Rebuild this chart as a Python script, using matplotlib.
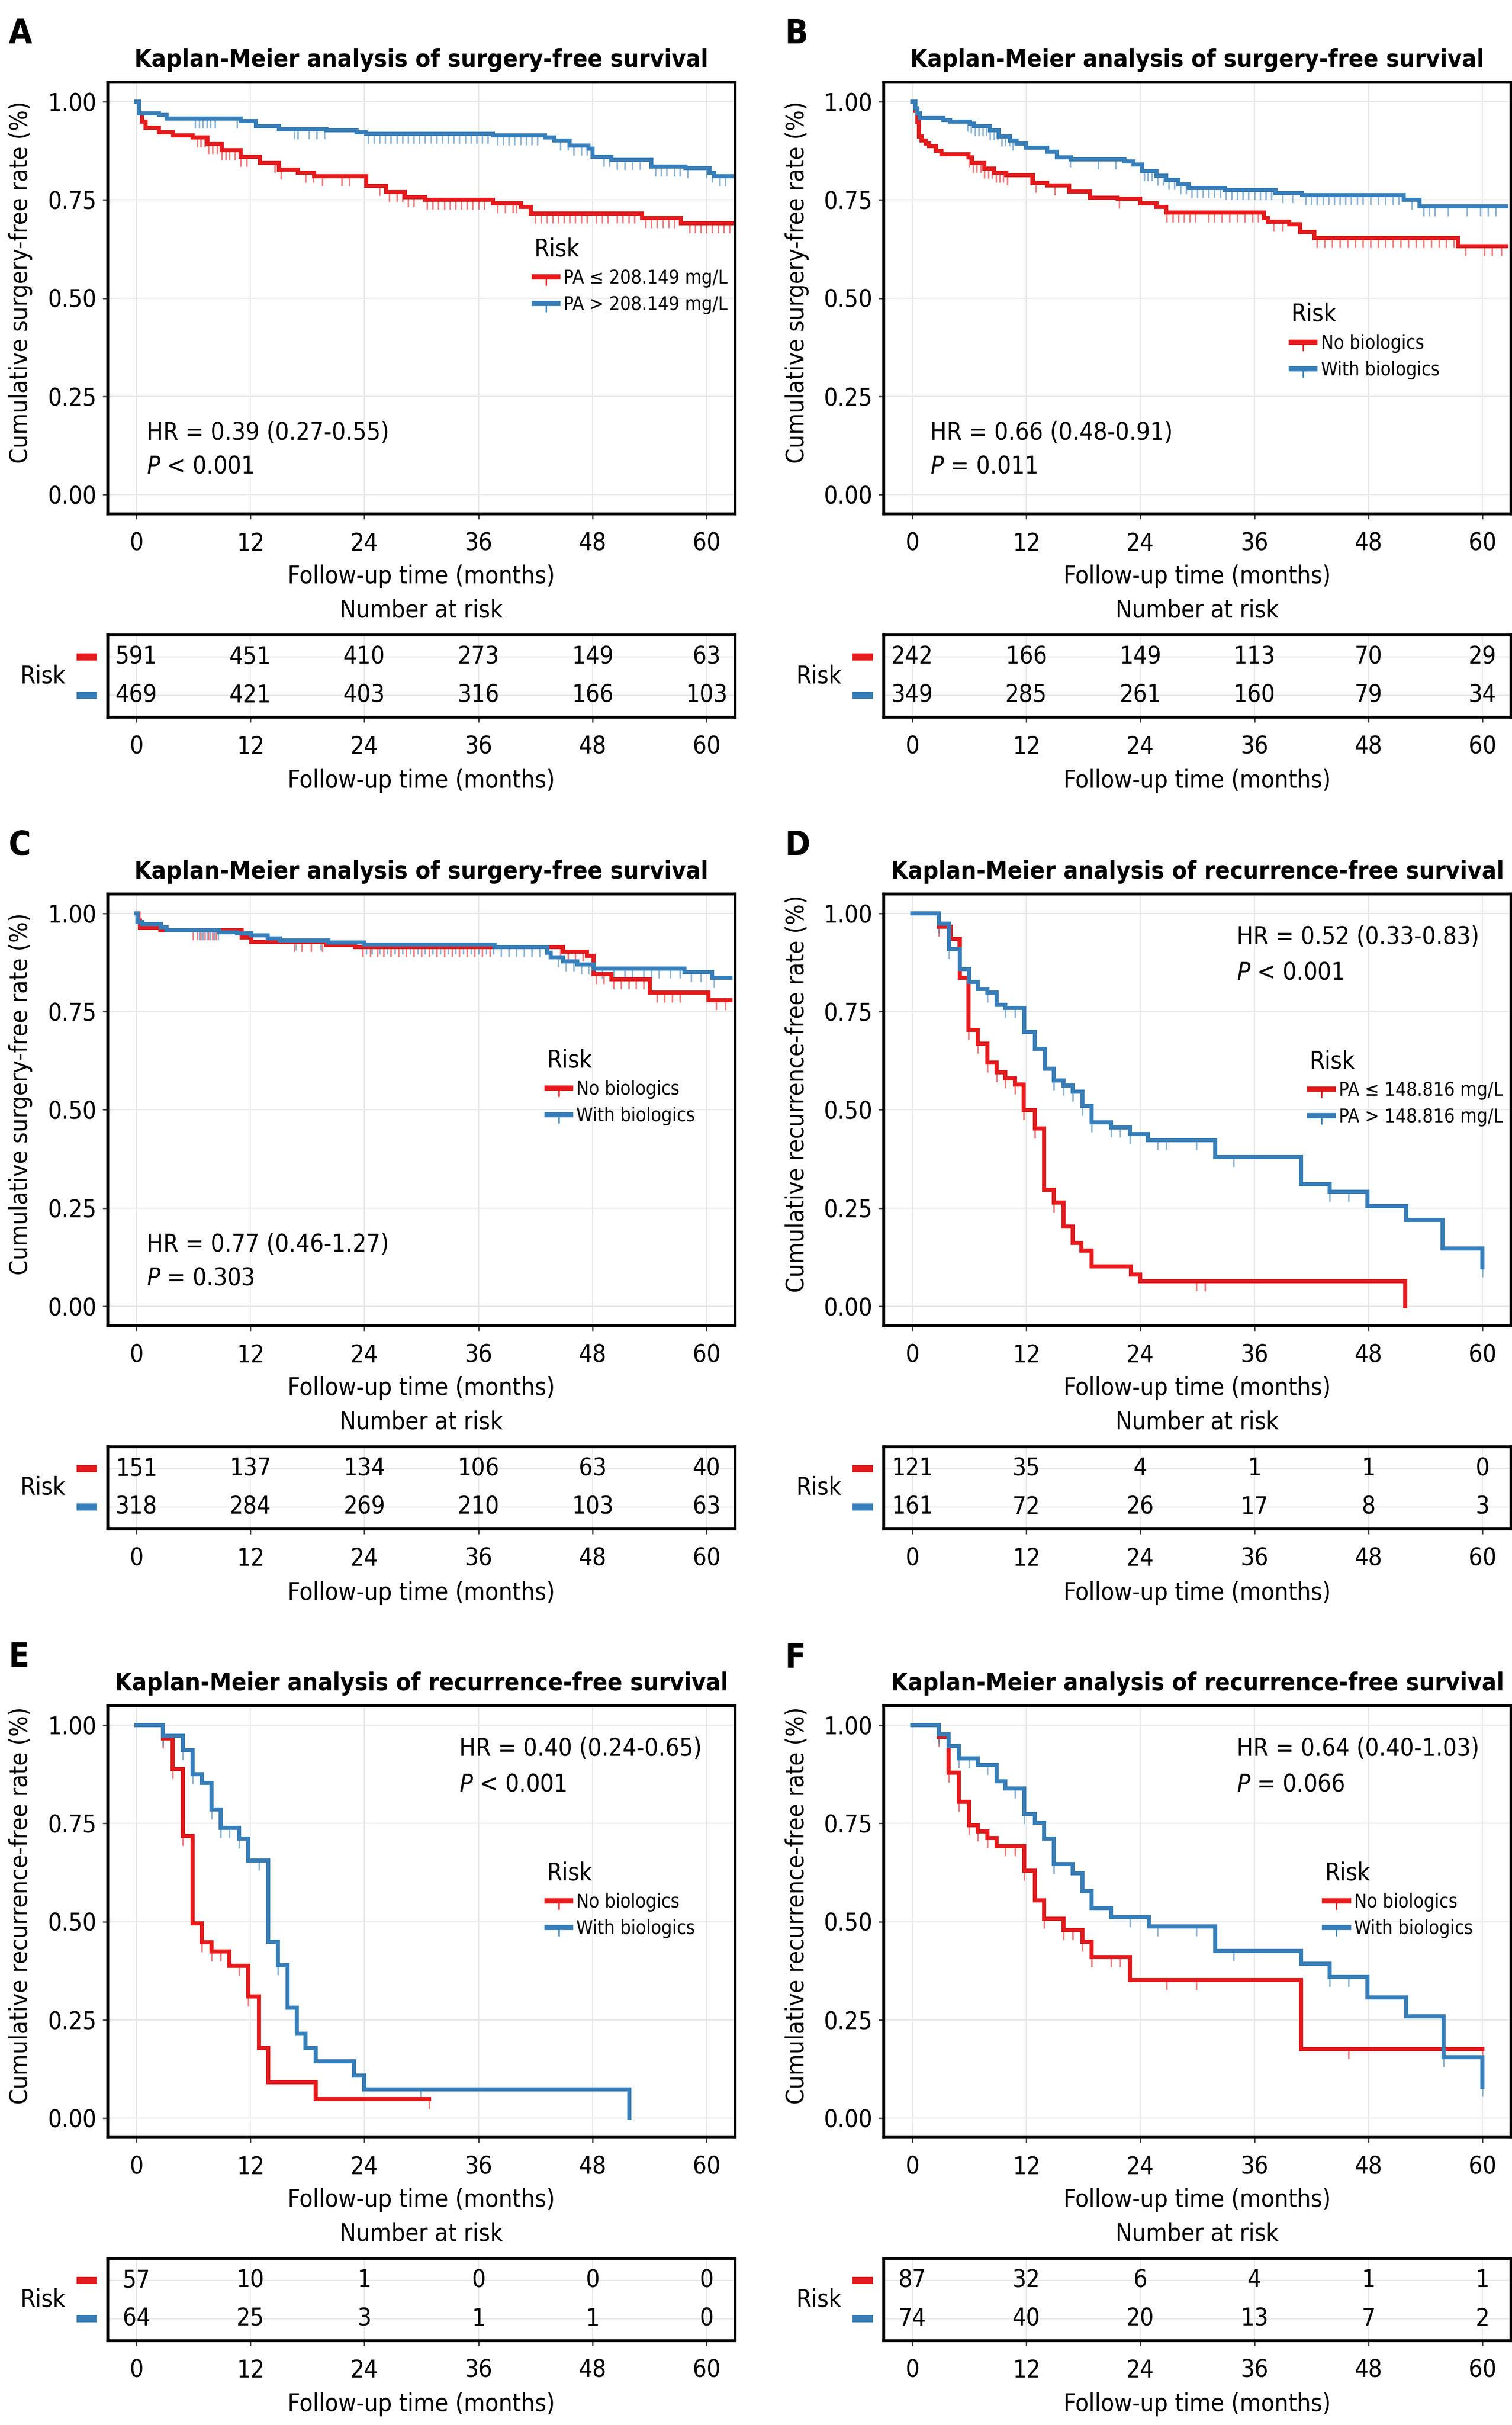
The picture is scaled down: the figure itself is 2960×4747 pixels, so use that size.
import numpy as np
import matplotlib
matplotlib.use('Agg')
import matplotlib.pyplot as plt
import matplotlib.font_manager as fm
from matplotlib.lines import Line2D
from matplotlib.patches import Rectangle
from matplotlib.path import Path
import matplotlib.transforms as mtransforms

_names = {f.name for f in fm.fontManager.ttflist}
_cond = [f for f in fm.fontManager.ttflist if f.name == 'DejaVu Sans' and str(f.stretch) in ('condensed', '400', 'semi-condensed')]
if 'DejaVu Sans Condensed' in _names:
    FAM = 'DejaVu Sans Condensed'
    SC = 1.11
    STRETCH = 'normal'
elif _cond:
    FAM = 'DejaVu Sans'
    SC = 1.11
    STRETCH = 'condensed'
else:
    FAM = 'DejaVu Sans'
    SC = 1.0
    STRETCH = 'normal'

plt.rcParams['font.family'] = [FAM, 'DejaVu Sans']
plt.rcParams['font.stretch'] = STRETCH
plt.rcParams['mathtext.fontset'] = 'custom'
plt.rcParams['mathtext.it'] = FAM + ':italic'
plt.rcParams['mathtext.rm'] = FAM

RED = '#E41A1C'
BLUE = '#377EB8'

time_ticks = [0, 12, 24, 36, 48, 60]
surv_ticks = [0.0, 0.25, 0.50, 0.75, 1.00]

title_sfs = "Kaplan-Meier analysis of surgery-free survival"
title_rfs = "Kaplan-Meier analysis of recurrence-free survival"
ylab_sfs = "Cumulative surgery-free rate (%)"
ylab_rfs = "Cumulative recurrence-free rate (%)"
xlab = "Follow-up time (months)"

# ---------------- Panel A ----------------
a_red_t = [0, 0.3, 0.6, 1.0, 2.4, 3.9, 5.9, 7.5, 9.0, 11.0, 13.0, 15.0, 17.0, 18.7, 24.2, 26.3, 28.3, 30.4, 37.5, 40.5, 41.5, 53.2, 57.3]
a_red_s = [1.0, 0.970, 0.950, 0.934, 0.922, 0.914, 0.909, 0.893, 0.877, 0.860, 0.844, 0.827, 0.819, 0.811, 0.786, 0.770, 0.757, 0.751, 0.741, 0.733, 0.716, 0.704, 0.691]
a_red_end = 62.6
a_red_cens = [6.4, 6.8, 7.2, 7.6, 8.0, 8.5, 9.0, 9.4, 9.8, 10.4, 11.0, 11.6, 14.6, 15.2, 17.8, 18.6, 19.6, 21.6, 22.4, 25.6, 26.6, 27.4, 28.0, 28.6, 29.2, 30.6, 31.2, 31.8, 32.4, 33.0, 33.6, 34.2, 34.8, 35.4, 36.0, 36.6, 38.0, 38.8, 39.6, 40.0, 42.0, 42.6, 43.2, 43.8, 44.4, 45.0, 45.6, 46.2, 46.8, 47.4, 48.4, 49.0, 49.6, 50.6, 51.2, 51.8, 52.4, 53.6, 54.2, 54.8, 55.4, 56.0, 56.6, 58.2, 58.8, 59.4, 60.0, 60.6, 61.2, 61.8, 62.4]
a_blue_t = [0, 0.3, 2.4, 3.2, 11.0, 12.6, 15.0, 20.0, 23.2, 24.2, 37.5, 43.0, 44.0, 45.6, 47.6, 48.0, 50.0, 54.2, 57.8, 60.3, 60.8]
a_blue_s = [1.0, 0.971, 0.967, 0.957, 0.951, 0.938, 0.930, 0.928, 0.922, 0.918, 0.914, 0.909, 0.901, 0.889, 0.881, 0.860, 0.852, 0.835, 0.831, 0.819, 0.811]
a_blue_end = 62.6
a_blue_cens = [6.2, 6.6, 7.0, 7.4, 7.8, 8.3, 10.6, 16.6, 17.0, 18.2, 19.0, 19.8, 24.4, 25.0, 25.6, 26.2, 26.8, 27.4, 28.0, 28.6, 29.2, 29.8, 30.4, 31.0, 31.6, 32.2, 32.8, 33.4, 34.0, 34.6, 35.2, 35.8, 36.4, 37.0, 38.0, 38.6, 39.2, 39.8, 40.4, 41.0, 41.6, 42.2, 44.6, 45.4, 46.0, 46.8, 47.4, 49.2, 49.8, 50.6, 51.4, 52.2, 53.0, 54.6, 55.2, 55.8, 56.6, 57.2, 58.0, 60.0, 60.6, 61.4, 62.0]
a_labels = ["PA \u2264 208.149 mg/L", "PA > 208.149 mg/L"]
a_risk_red = [591, 451, 410, 273, 149, 63]
a_risk_blue = [469, 421, 403, 316, 166, 103]
a_hr = "HR = 0.39 (0.27-0.55)"
a_p = ("<", "0.001")

# ---------------- Panel B ----------------
b_red_t = [0, 0.34, 0.55, 0.7, 1.0, 1.4, 1.8, 2.5, 3.1, 5.9, 6.3, 7.6, 8.6, 9.9, 12.7, 14.2, 16.5, 18.7, 21.6, 24.0, 25.7, 26.7, 37.0, 37.4, 39.7, 40.8, 42.3, 57.4]
b_red_s = [1.0, 0.977, 0.948, 0.912, 0.902, 0.894, 0.887, 0.875, 0.866, 0.859, 0.844, 0.830, 0.819, 0.813, 0.794, 0.787, 0.772, 0.756, 0.753, 0.742, 0.733, 0.718, 0.704, 0.695, 0.688, 0.668, 0.653, 0.632]
b_red_end = 62.5
b_red_cens = [6.0, 6.4, 6.8, 7.2, 7.6, 8.0, 8.4, 8.8, 9.2, 9.6, 10.0, 12.4, 13.0, 15.0, 21.8, 26.8, 27.4, 28.0, 28.6, 29.2, 29.8, 31.2, 31.8, 32.6, 33.4, 34.2, 35.0, 35.8, 36.4, 38.0, 39.0, 42.6, 43.4, 44.2, 45.0, 45.8, 46.6, 47.4, 48.2, 49.0, 49.8, 50.6, 51.4, 52.2, 53.0, 53.8, 54.6, 55.4, 56.2, 57.0, 58.2, 60.2, 61.0, 62.0]
b_blue_t = [0, 0.34, 0.55, 0.8, 3.3, 4.0, 6.1, 6.5, 8.2, 9.1, 10.3, 11.0, 12.0, 14.2, 15.2, 16.7, 22.3, 23.3, 24.2, 25.7, 26.7, 28.0, 29.1, 32.9, 38.2, 41.0, 51.7, 53.4]
b_blue_s = [1.0, 0.984, 0.970, 0.959, 0.954, 0.950, 0.945, 0.938, 0.927, 0.912, 0.902, 0.894, 0.884, 0.873, 0.859, 0.854, 0.848, 0.841, 0.823, 0.812, 0.802, 0.790, 0.780, 0.775, 0.767, 0.762, 0.751, 0.734]
b_blue_end = 62.5
b_blue_cens = [5.8, 6.2, 6.6, 7.0, 7.4, 7.8, 8.2, 8.6, 9.0, 9.4, 9.8, 10.2, 10.6, 16.6, 19.6, 21.4, 24.4, 24.8, 25.2, 25.8, 26.4, 27.0, 27.6, 28.2, 28.8, 29.4, 30.0, 30.6, 31.2, 31.8, 32.4, 33.0, 33.6, 34.2, 34.8, 35.4, 36.0, 36.6, 37.2, 37.8, 39.0, 40.0, 41.4, 42.0, 42.6, 43.2, 43.8, 44.4, 45.0, 45.6, 46.2, 46.8, 47.4, 48.2, 49.0, 49.8, 50.6, 51.2, 52.6, 53.8, 54.4, 55.0, 56.4, 58.4, 59.8, 60.6, 61.4]
b_labels = ["No biologics", "With biologics"]
b_risk_red = [242, 166, 149, 113, 70, 29]
b_risk_blue = [349, 285, 261, 160, 79, 34]
b_hr = "HR = 0.66 (0.48-0.91)"
b_p = ("=", "0.011")

# ---------------- Panel C ----------------
c_red_t = [0, 0.2, 0.4, 2.55, 11.1, 12.1, 20.0, 23.0, 44.9, 47.4, 48.1, 50.0, 54.0, 60.2]
c_red_s = [1.0, 0.982, 0.964, 0.957, 0.939, 0.927, 0.920, 0.914, 0.903, 0.892, 0.846, 0.832, 0.799, 0.779]
c_red_end = 62.5
c_red_cens = [6.0, 6.4, 6.8, 7.2, 7.6, 8.0, 8.4, 16.6, 17.4, 18.4, 19.6, 23.8, 24.6, 25.4, 26.0, 26.8, 27.6, 28.4, 29.2, 30.0, 30.8, 31.6, 32.4, 33.2, 34.0, 34.8, 35.6, 36.4, 37.2, 44.6, 45.4, 46.2, 47.0, 48.4, 49.2, 50.2, 51.0, 51.8, 52.6, 53.4, 54.8, 55.6, 56.4, 57.2, 61.0, 62.0]
c_blue_t = [0, 0.1, 0.6, 2.6, 3.2, 8.7, 10.6, 12.1, 13.8, 15.1, 20.2, 24.0, 37.7, 43.2, 43.6, 44.9, 46.4, 48.1, 57.7, 60.6]
c_blue_s = [1.0, 0.978, 0.973, 0.966, 0.958, 0.953, 0.950, 0.944, 0.937, 0.932, 0.926, 0.921, 0.914, 0.900, 0.889, 0.878, 0.871, 0.860, 0.851, 0.837]
c_blue_end = 62.5
c_blue_cens = [6.6, 7.0, 7.4, 7.8, 8.2, 8.6, 16.8, 19.4, 24.2, 24.8, 25.6, 26.4, 27.2, 28.0, 28.8, 29.6, 30.4, 31.2, 32.0, 32.8, 33.6, 34.4, 35.2, 36.0, 36.8, 37.6, 38.4, 39.2, 40.0, 40.8, 41.6, 42.4, 44.4, 45.2, 46.0, 46.8, 47.6, 49.0, 50.2, 51.4, 52.2, 53.4, 54.2, 55.0, 56.2, 57.2, 58.4, 59.4, 60.8]
c_labels = ["No biologics", "With biologics"]
c_risk_red = [151, 137, 134, 106, 63, 40]
c_risk_blue = [318, 284, 269, 210, 103, 63]
c_hr = "HR = 0.77 (0.46-1.27)"
c_p = ("=", "0.303")

# ---------------- Panel D ----------------
d_red_t = [0, 2.8, 4.05, 5.0, 5.9, 6.9, 7.9, 8.9, 9.8, 10.8, 11.75, 12.9, 13.9, 14.9, 15.9, 16.9, 17.8, 18.9, 23.0, 24.0, 51.9]
d_red_s = [1.0, 0.967, 0.935, 0.836, 0.704, 0.668, 0.620, 0.596, 0.580, 0.565, 0.499, 0.453, 0.296, 0.264, 0.203, 0.161, 0.141, 0.101, 0.080, 0.063, 0.0]
d_red_end = 51.9
d_red_cens = [2.8, 4.8, 5.9, 6.9, 7.9, 8.9, 9.8, 10.8, 11.75, 12.9, 14.9, 29.9, 30.8]
d_blue_t = [0, 2.8, 3.9, 5.0, 6.0, 6.9, 7.9, 8.9, 9.8, 11.8, 12.9, 14.0, 14.9, 15.9, 16.9, 17.9, 18.9, 20.9, 22.9, 24.8, 31.9, 40.9, 43.9, 47.9, 51.96, 55.8, 60.0]
d_blue_s = [1.0, 0.974, 0.910, 0.858, 0.826, 0.808, 0.799, 0.768, 0.760, 0.699, 0.655, 0.605, 0.575, 0.562, 0.546, 0.510, 0.468, 0.455, 0.438, 0.422, 0.379, 0.311, 0.291, 0.255, 0.220, 0.146, 0.099]
d_blue_end = 60.0
d_blue_cens = [2.8, 3.9, 6.0, 7.9, 9.8, 10.8, 14.9, 15.9, 16.9, 17.9, 18.9, 20.9, 21.9, 22.9, 25.8, 26.7, 29.9, 33.8, 43.9, 45.9, 60.0]
d_labels = ["PA \u2264 148.816 mg/L", "PA > 148.816 mg/L"]
d_risk_red = [121, 35, 4, 1, 1, 0]
d_risk_blue = [161, 72, 26, 17, 8, 3]
d_hr = "HR = 0.52 (0.33-0.83)"
d_p = ("<", "0.001")

# ---------------- Panel E ----------------
e_red_t = [0, 2.8, 3.8, 4.9, 5.9, 6.9, 7.9, 9.8, 11.8, 12.9, 13.9, 18.9]
e_red_s = [1.0, 0.967, 0.888, 0.718, 0.495, 0.447, 0.424, 0.388, 0.309, 0.178, 0.090, 0.047]
e_red_end = 30.8
e_red_cens = [2.8, 3.8, 4.9, 6.9, 7.9, 8.9, 10.8, 11.8, 30.8]
e_blue_t = [0, 2.8, 4.9, 5.9, 6.9, 7.9, 8.9, 10.8, 11.8, 13.9, 14.9, 15.9, 16.9, 17.8, 18.9, 22.9, 24.0, 51.9]
e_blue_s = [1.0, 0.973, 0.937, 0.876, 0.854, 0.786, 0.739, 0.712, 0.655, 0.449, 0.389, 0.281, 0.214, 0.178, 0.144, 0.108, 0.072, 0.0]
e_blue_end = 51.9
e_blue_cens = [2.8, 4.9, 5.9, 7.9, 8.9, 9.8, 10.8, 12.9, 14.9, 29.9]
e_labels = ["No biologics", "With biologics"]
e_risk_red = [57, 10, 1, 0, 0, 0]
e_risk_blue = [64, 25, 3, 1, 1, 0]
e_hr = "HR = 0.40 (0.24-0.65)"
e_p = ("<", "0.001")

# ---------------- Panel F ----------------
f_red_t = [0, 2.8, 3.8, 4.9, 6.0, 6.9, 7.9, 8.9, 11.8, 12.9, 13.9, 15.9, 17.9, 18.9, 22.9, 40.9]
f_red_s = [1.0, 0.970, 0.880, 0.805, 0.746, 0.730, 0.713, 0.692, 0.629, 0.554, 0.507, 0.478, 0.449, 0.410, 0.351, 0.175]
f_red_end = 60.0
f_red_cens = [2.8, 3.8, 4.9, 6.0, 6.9, 7.9, 9.8, 10.8, 11.8, 13.9, 15.9, 16.9, 17.9, 18.9, 20.9, 21.9, 26.8, 29.9, 45.9, 60.0]
f_blue_t = [0, 2.8, 3.8, 4.9, 6.9, 8.9, 9.8, 11.8, 12.9, 13.9, 14.9, 16.9, 17.9, 18.9, 20.9, 24.9, 31.9, 40.9, 43.9, 47.9, 52.0, 55.9, 60.0]
f_blue_s = [1.0, 0.977, 0.947, 0.916, 0.899, 0.857, 0.839, 0.774, 0.752, 0.712, 0.646, 0.623, 0.578, 0.534, 0.511, 0.487, 0.425, 0.392, 0.359, 0.307, 0.259, 0.154, 0.079]
f_blue_end = 60.0
f_blue_cens = [2.8, 4.9, 6.0, 7.9, 10.8, 11.8, 14.9, 22.9, 25.8, 29.9, 33.8, 43.9, 45.9, 55.9, 60.0]
f_labels = ["No biologics", "With biologics"]
f_risk_red = [87, 32, 6, 4, 1, 1]
f_risk_blue = [74, 40, 20, 13, 7, 2]
f_hr = "HR = 0.64 (0.40-1.03)"
f_p = ("=", "0.066")

panels = [
    dict(letter='A', title=title_sfs, ylab=ylab_sfs,
         red=(a_red_t, a_red_s, a_red_end, a_red_cens), blue=(a_blue_t, a_blue_s, a_blue_end, a_blue_cens),
         labels=a_labels, risk=(a_risk_red, a_risk_blue), hr=a_hr, p=a_p,
         leg=(0.680, 0.641), stat=(0.062, 0.188, 0.110)),
    dict(letter='B', title=title_sfs, ylab=ylab_sfs,
         red=(b_red_t, b_red_s, b_red_end, b_red_cens), blue=(b_blue_t, b_blue_s, b_blue_end, b_blue_cens),
         labels=b_labels, risk=(b_risk_red, b_risk_blue), hr=b_hr, p=b_p,
         leg=(0.650, 0.490), stat=(0.074, 0.188, 0.110)),
    dict(letter='C', title=title_sfs, ylab=ylab_sfs,
         red=(c_red_t, c_red_s, c_red_end, c_red_cens), blue=(c_blue_t, c_blue_s, c_blue_end, c_blue_cens),
         labels=c_labels, risk=(c_risk_red, c_risk_blue), hr=c_hr, p=c_p,
         leg=(0.700, 0.642), stat=(0.062, 0.188, 0.110)),
    dict(letter='D', title=title_rfs, ylab=ylab_rfs,
         red=(d_red_t, d_red_s, d_red_end, d_red_cens), blue=(d_blue_t, d_blue_s, d_blue_end, d_blue_cens),
         labels=d_labels, risk=(d_risk_red, d_risk_blue), hr=d_hr, p=d_p,
         leg=(0.679, 0.640), stat=(0.563, 0.900, 0.818)),
    dict(letter='E', title=title_rfs, ylab=ylab_rfs,
         red=(e_red_t, e_red_s, e_red_end, e_red_cens), blue=(e_blue_t, e_blue_s, e_blue_end, e_blue_cens),
         labels=e_labels, risk=(e_risk_red, e_risk_blue), hr=e_hr, p=e_p,
         leg=(0.700, 0.640), stat=(0.560, 0.900, 0.818)),
    dict(letter='F', title=title_rfs, ylab=ylab_rfs,
         red=(f_red_t, f_red_s, f_red_end, f_red_cens), blue=(f_blue_t, f_blue_s, f_blue_end, f_blue_cens),
         labels=f_labels, risk=(f_risk_red, f_risk_blue), hr=f_hr, p=f_p,
         leg=(0.703, 0.640), stat=(0.563, 0.900, 0.818)),
]

W, H = 2960, 4747
fig = plt.figure(figsize=(W / 100, H / 100), dpi=100)

FS = 31 * SC
LFS = 24 * SC
LW = 5.8
GRID = '#E8E8E8'
BORDER = 4.0

# censor tick hanging downward from the curve
CENS_MARK = Path([(0, 0), (0, -1)], [Path.MOVETO, Path.LINETO])


def surv_at(t, s, c):
    t = np.asarray(t); s = np.asarray(s)
    idx = np.searchsorted(t, np.asarray(c), side='right') - 1
    return s[idx]


def style_axis(ax):
    for sp in ax.spines.values():
        sp.set_linewidth(BORDER)
        sp.set_color('black')
    ax.grid(True, color=GRID, linewidth=1.6)
    ax.set_axisbelow(True)
    ax.tick_params(axis='both', direction='out', length=7, width=1.8, color='#333333',
                   labelsize=FS, labelcolor='black')


PITCH = 1589
lefts = [211, 1730]
AW = 1228
for i, p in enumerate(panels):
    r, c = divmod(i, 2)
    left = lefts[c] / W
    top_px = 161 + r * PITCH
    main_bottom_px = 1006 + r * PITCH
    tab_top_px = 1243 + r * PITCH
    tab_bottom_px = 1404 + r * PITCH

    ax = fig.add_axes([left, 1 - main_bottom_px / H, AW / W, (main_bottom_px - top_px) / H])
    style_axis(ax)
    ax.set_xlim(-3, 63)
    ax.set_ylim(-0.05, 1.05)
    ax.set_xticks(time_ticks)
    ax.set_yticks(surv_ticks)
    ax.set_yticklabels([f"{v:.2f}" for v in surv_ticks])
    ax.tick_params(axis='x', pad=18)
    ax.tick_params(axis='y', pad=9)

    handles = []
    for key, col in (('red', RED), ('blue', BLUE)):
        t, s, tend, cens = p[key]
        xs = list(t) + [tend]
        ys = list(s) + [s[-1]]
        ax.plot(cens, surv_at(t, s, cens), ls='none', marker=CENS_MARK, ms=27, mew=2.2,
                color=col, alpha=0.55, zorder=2.5)
        ax.step(xs, ys, where='post', color=col, lw=LW, solid_joinstyle='miter', zorder=3)
        handles.append(Line2D([], [], color=col, lw=7.5, marker=CENS_MARK, ms=24, mew=2.0,
                              markeredgecolor=col))

    ax.set_title(p['title'], fontsize=FS, fontweight='bold', pad=21.6)
    ax.text(-170 / AW, 0.537, p['ylab'], transform=ax.transAxes, rotation=90,
            ha='center', va='center', fontsize=FS)
    ax.text(0.5, -0.1444, xlab, transform=ax.transAxes, ha='center', va='center', fontsize=FS)
    ax.text(0.5, -0.224, "Number at risk", transform=ax.transAxes, ha='center', va='center', fontsize=FS)

    sx, hy, py = p['stat']
    ax.text(sx, hy, p['hr'], transform=ax.transAxes, ha='left', va='center', fontsize=FS)
    ax.text(sx, py, r"$\mathit{P}$" + f" {p['p'][0]} {p['p'][1]}", transform=ax.transAxes,
            ha='left', va='center', fontsize=FS)

    lx, ly = p['leg']
    ax.legend(handles, p['labels'], title='Risk', loc='upper left', bbox_to_anchor=(lx, ly),
              frameon=False, fontsize=LFS, title_fontsize=FS, handlelength=1.25,
              handletextpad=0.3, labelspacing=0.4, borderpad=0, borderaxespad=0,
              numpoints=1, alignment='left')

    fig.text((17 + lefts[c] - 211) / W, 1 - (35 + r * PITCH) / H, p['letter'],
             fontsize=43 * SC, fontweight='bold', ha='left', va='top')

    # risk table
    tax = fig.add_axes([left, 1 - tab_bottom_px / H, AW / W, (tab_bottom_px - tab_top_px) / H])
    style_axis(tax)
    tax.set_xlim(-3, 63)
    tax.set_ylim(0.43, 2.57)
    tax.set_xticks(time_ticks)
    tax.set_yticks([1, 2])
    tax.set_yticklabels([])
    tax.tick_params(axis='y', length=0)
    tax.tick_params(axis='x', pad=18)
    risk_red, risk_blue = p['risk']
    for row, vals in ((2, risk_red), (1, risk_blue)):
        for tt, v in zip(time_ticks, vals):
            tax.text(tt, row, str(v), ha='center', va='center', fontsize=FS)
    trans = mtransforms.blended_transform_factory(tax.transAxes, tax.transData)
    for row, col in ((2, RED), (1, BLUE)):
        tax.add_patch(Rectangle((-61 / AW, row - 0.088), 40 / AW, 0.176, transform=trans,
                                facecolor=col, edgecolor='none', clip_on=False))
    tax.text(-127 / AW, 1.5, "Risk", transform=trans, ha='center', va='center', fontsize=FS)
    tax.text(0.5, -125 / 161, xlab, transform=tax.transAxes, ha='center', va='center', fontsize=FS)

fig.savefig('out.png', dpi=100)
